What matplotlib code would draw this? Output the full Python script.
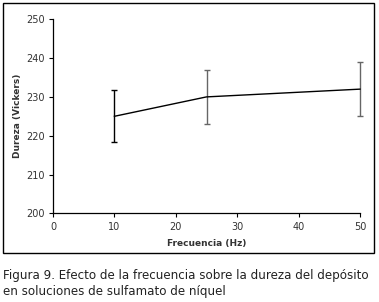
import matplotlib
matplotlib.use("Agg")
import matplotlib.pyplot as plt
from matplotlib.patches import Rectangle

frecuencia = [10, 25, 50]
dureza = [225, 230, 232]
err_low = [218.3, 223, 225]
err_high = [231.8, 236.9, 238.9]
err_colors = ["#000000", "#666666", "#666666"]
xticks = [0, 10, 20, 30, 40, 50]
yticks = [200, 210, 220, 230, 240, 250]

W, H = 379, 302
fig = plt.figure(figsize=(W / 100, H / 100), dpi=100)

def fx(px):
    return px / W

def fy(py):
    return 1 - py / H

ax = fig.add_axes([fx(53), fy(213.3), fx(360) - fx(53), fy(19.3) - fy(213.3)])

for x, y, lo, hi, c in zip(frecuencia, dureza, err_low, err_high, err_colors):
    eb = ax.errorbar([x], [y], yerr=[[y - lo], [hi - y]], fmt="none", ecolor=c,
                     elinewidth=1.0, capsize=2, capthick=1.0, zorder=2)
    for art in eb.lines[1] + eb.lines[2]:
        art.set_clip_on(False)
ax.plot(frecuencia, dureza, color="black", lw=1.0, zorder=3, clip_on=False)

ax.set_xlim(0, 50)
ax.set_ylim(200, 250)
ax.set_xticks(xticks)
ax.set_yticks(yticks)
for s in ["top", "right"]:
    ax.spines[s].set_visible(False)
for s in ["left", "bottom"]:
    ax.spines[s].set_linewidth(0.9)
ax.tick_params(axis="both", labelsize=7, colors="black", length=3, width=0.8,
               labelcolor="#333333", pad=3)
ax.set_xlabel("Frecuencia (Hz)", fontsize=6.5, fontweight="bold", labelpad=5, color="#333333")
ax.set_ylabel("Dureza (Vickers)", fontsize=6.5, fontweight="bold", labelpad=3, color="#333333")

rect = Rectangle((fx(3), fy(253)), fx(374) - fx(3), fy(3) - fy(253),
                 transform=fig.transFigure, fill=False, edgecolor="black", lw=1.0)
fig.patches.append(rect)

fig.text(fx(3), fy(275), "Figura 9. Efecto de la frecuencia sobre la dureza del depósito",
         fontsize=8.6, va="center", ha="left", color="#222222")
fig.text(fx(3), fy(292), "en soluciones de sulfamato de níquel",
         fontsize=8.6, va="center", ha="left", color="#222222")

fig.savefig("out.png", dpi=100)
